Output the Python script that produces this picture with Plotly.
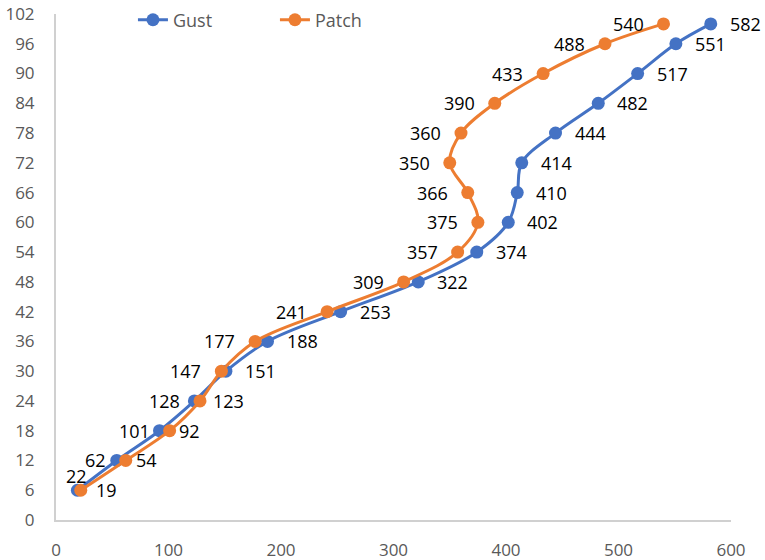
import plotly.graph_objects as go

heights = [6, 12, 18, 24, 30, 36, 42, 48, 54, 60, 66, 72, 78, 84, 90, 96, 100]
gust = [19, 54, 92, 123, 151, 188, 253, 322, 374, 402, 410, 414, 444, 482, 517, 551, 582]
patch = [22, 62, 101, 128, 147, 177, 241, 309, 357, 375, 366, 350, 360, 390, 433, 488, 540]

BLUE = "#4472C4"
ORANGE = "#ED7D31"
FONT = "Open Sans"
LABEL_FONT = dict(family=FONT, size=18, color="#000000")

fig = go.Figure()
fig.add_trace(go.Scatter(
    x=gust, y=heights, name="Gust", mode="lines+markers",
    line=dict(color=BLUE, width=3, shape="spline", smoothing=1),
    marker=dict(color=BLUE, size=13), cliponaxis=False,
))
fig.add_trace(go.Scatter(
    x=patch, y=heights, name="Patch", mode="lines+markers",
    line=dict(color=ORANGE, width=3, shape="spline", smoothing=1),
    marker=dict(color=ORANGE, size=13), cliponaxis=False,
))

annotations = []
for xv, yv in zip(gust, heights):
    annotations.append(dict(x=xv, y=yv, xref="x", yref="y", text=str(xv), showarrow=False,
                            xanchor="left", yanchor="middle", xshift=17, yshift=0,
                            font=LABEL_FONT))
for i, (xv, yv) in enumerate(zip(patch, heights)):
    if i == 0:
        annotations.append(dict(x=xv, y=yv, xref="x", yref="y", text=str(xv), showarrow=False,
                                xanchor="left", yanchor="middle", xshift=-17, yshift=14,
                                font=LABEL_FONT))
    else:
        annotations.append(dict(x=xv, y=yv, xref="x", yref="y", text=str(xv), showarrow=False,
                                xanchor="right", yanchor="middle", xshift=-18, yshift=0,
                                font=LABEL_FONT))

fig.update_layout(
    width=765, height=560,
    margin=dict(l=56, r=34, t=14, b=40, autoexpand=False),
    paper_bgcolor="white", plot_bgcolor="white",
    font=dict(family=FONT, size=16, color="#595959"),
    showlegend=True,
    annotations=annotations,
    legend=dict(orientation="h", x=0.114, y=0.988, xanchor="left", yanchor="middle",
                font=dict(family=FONT, size=18, color="#595959"),
                bgcolor="rgba(0,0,0,0)", entrywidth=97, entrywidthmode="pixels",
                tracegroupgap=0),
    xaxis=dict(range=[0, 600], dtick=100, tick0=0, showgrid=False, zeroline=False,
               showline=True, linecolor="#D0D0D0", linewidth=2, automargin=False,
               ticks="", ticklabelstandoff=14,
               tickfont=dict(family=FONT, size=17, color="#595959")),
    yaxis=dict(range=[0, 102], dtick=6, tick0=0, showgrid=False, zeroline=False,
               showline=True, linecolor="#D0D0D0", linewidth=2, automargin=False,
               ticks="", ticklabelstandoff=16,
               tickfont=dict(family=FONT, size=17, color="#595959")),
)

fig.write_html("out.html")
